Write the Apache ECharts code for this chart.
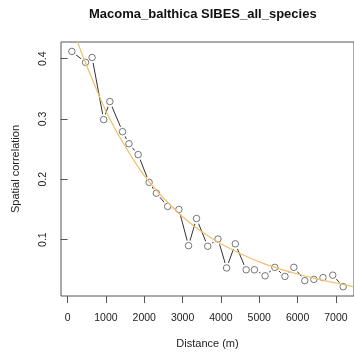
<!DOCTYPE html>
<html>
<head>
<meta charset="utf-8">
<script src="https://cdn.jsdelivr.net/npm/echarts@6/dist/echarts.min.js"></script>
<style>html,body{margin:0;padding:0;background:#fff;}#c{width:354px;height:359px;}</style>
</head>
<body>
<div id="c"></div>
<script>
const titleText = 'Macoma_balthica SIBES_all_species';
const xName = 'Distance (m)';
const yName = 'Spatial correlation';
const xTicks = [0, 1000, 2000, 3000, 4000, 5000, 6000, 7000];
const yTicks = [0.1, 0.2, 0.3, 0.4];
const distances = [111, 467, 640, 941, 1102, 1434, 1600, 1841, 2126, 2315, 2611, 2904, 3155, 3363, 3656, 3923, 4148, 4376, 4659, 4874, 5152, 5406, 5670, 5903, 6189, 6425, 6663, 6917, 7189];
const correlation = [0.412, 0.394, 0.402, 0.299, 0.329, 0.279, 0.259, 0.241, 0.195, 0.177, 0.155, 0.150, 0.090, 0.135, 0.089, 0.101, 0.053, 0.093, 0.050, 0.050, 0.040, 0.054, 0.039, 0.054, 0.032, 0.034, 0.037, 0.041, 0.022];
const fitDistances = [250, 500, 1000, 1500, 2000, 2500, 3000, 3500, 4000, 4500, 5000, 5500, 6000, 6500, 7000, 7450];
const fitValues = [0.429, 0.388, 0.313, 0.255, 0.206, 0.169, 0.138, 0.113, 0.093, 0.077, 0.063, 0.052, 0.043, 0.035, 0.028, 0.022];

const pts = distances.map((d, i) => [d, correlation[i]]);
const fit = fitDistances.map((d, i) => [d, fitValues[i]]);
const font = 'Liberation Sans, Arial, Helvetica, sans-serif';

const chart = echarts.init(document.getElementById('c'), null, {renderer: 'canvas'});
chart.setOption({
  animation: false,
  backgroundColor: '#fff',
  title: {
    text: titleText, left: 89, top: 8, padding: 0,
    textStyle: {fontFamily: font, fontSize: 13, fontWeight: 'bold', color: '#111'}
  },
  grid: {left: 61, top: 42, width: 295, height: 254, show: true, borderColor: '#555', borderWidth: 1, backgroundColor: 'transparent'},
  xAxis: {
    type: 'value', min: -172, max: 7472,
    name: xName, nameLocation: 'middle', nameGap: 42,
    nameTextStyle: {fontFamily: font, fontSize: 11, color: '#222'},
    axisLine: {show: false},
    splitLine: {show: false},
    axisTick: {show: true, length: 7, lineStyle: {color: '#555'}, customValues: xTicks},
    axisLabel: {fontFamily: font, fontSize: 10.5, color: '#222', margin: 17, customValues: xTicks,
      formatter: v => String(v)}
  },
  yAxis: {
    type: 'value', min: 0.0065, max: 0.4277,
    name: yName, nameLocation: 'middle', nameGap: 40, nameRotate: 90,
    nameTextStyle: {fontFamily: font, fontSize: 11, color: '#222'},
    axisLine: {show: false},
    splitLine: {show: false},
    axisTick: {show: true, length: 7, lineStyle: {color: '#555'}, customValues: yTicks},
    axisLabel: {fontFamily: font, fontSize: 10.5, color: '#222', margin: 12, rotate: 90, customValues: yTicks,
      formatter: v => v.toFixed(1)}
  },
  series: [
    {
      type: 'line', data: pts, z: 2,
      lineStyle: {color: '#333', width: 1},
      symbol: 'circle', symbolSize: 11,
      itemStyle: {color: '#fff', borderWidth: 0},
      emphasis: {disabled: true}
    },
    {
      type: 'scatter', data: pts, z: 3,
      symbol: 'circle', symbolSize: 6.5,
      itemStyle: {color: '#fff', borderColor: '#555', borderWidth: 1},
      emphasis: {disabled: true}
    },
    {
      type: 'line', data: fit, z: 4, smooth: 0.25,
      showSymbol: false, symbol: 'none',
      lineStyle: {color: '#EFC16E', width: 1.2},
      emphasis: {disabled: true}
    }
  ]
});
</script>
</body>
</html>
